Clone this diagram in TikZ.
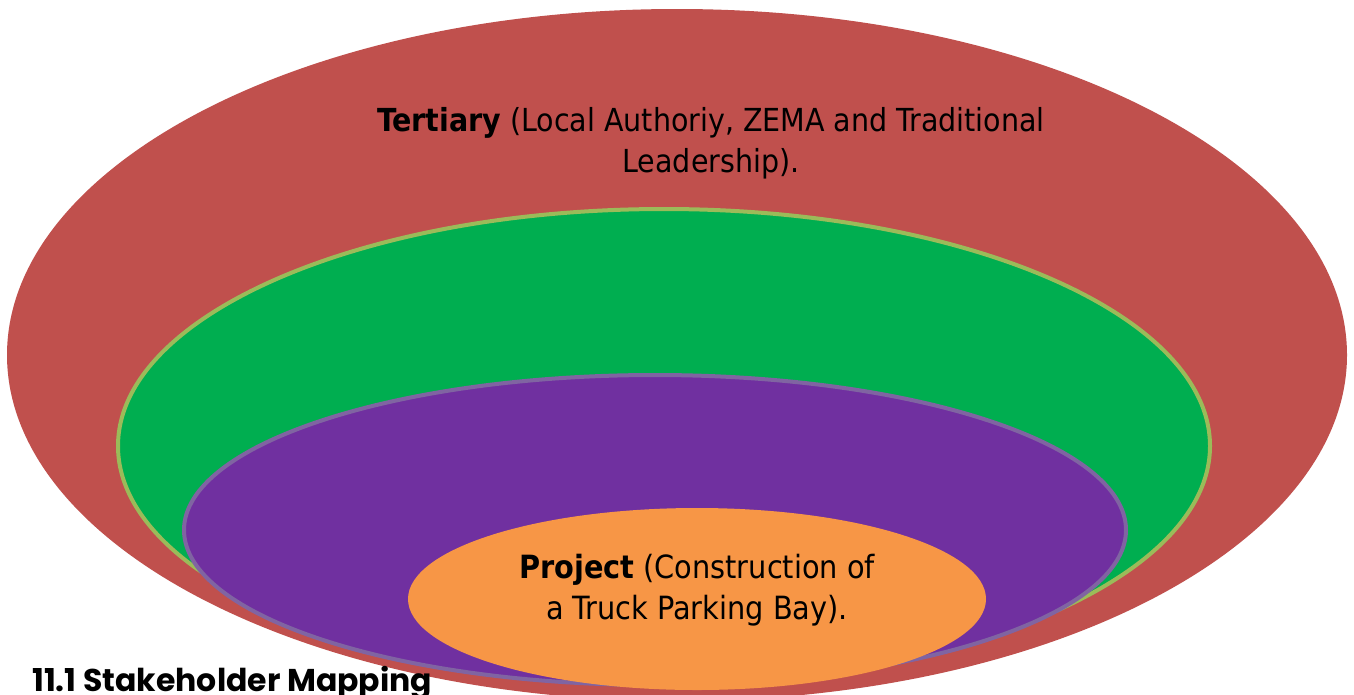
\documentclass[tikz,border=0pt]{standalone}
\usepackage{fontspec}
\setmainfont{DejaVu Sans Condensed}
\newfontfamily\headfont{Poppins}
\definecolor{tred}{HTML}{C0504D}
\definecolor{sgreen}{HTML}{00AE50}
\definecolor{sgreenline}{HTML}{9BBB59}
\definecolor{ppurple}{HTML}{7030A0}
\definecolor{ppurpleline}{HTML}{8064A2}
\definecolor{porange}{HTML}{F79646}
\tikzset{
  lbl/.style={align=center, font=\fontsize{31.7}{41}\selectfont, text=black}
}
\begin{document}
\begin{tikzpicture}[x=1pt,y=-1pt]
\useasboundingbox (0,0) rectangle (1354,694);
\fill[tred] (677,355) ellipse [x radius=670, y radius=346];
\coordinate (tert) at (677,355);
\filldraw[fill=sgreen, draw=sgreenline, line width=4pt] (664,446) ellipse [x radius=546, y radius=237];
\coordinate (sec) at (664,446);
\filldraw[fill=ppurple, draw=ppurpleline, line width=4pt] (655,530) ellipse [x radius=471, y radius=155];
\coordinate (pri) at (655,530);
\fill[porange] (697,599) ellipse [x radius=289, y radius=91];
\node[lbl] (tertlbl) at (711,143) {\textbf{Tertiary} (Local Authoriy, ZEMA and Traditional\\Leadership).};
\node[lbl, font=\fontsize{32}{41}\selectfont] (projlbl) at (697,590) {\textbf{Project} (Construction of\\a Truck Parking Bay).};
\node[anchor=base west, inner sep=0pt, font=\headfont\bfseries\fontsize{31.5}{32}\selectfont] (head) at (32,691) {11.1 Stakeholder Mapping};
\end{tikzpicture}
\end{document}
